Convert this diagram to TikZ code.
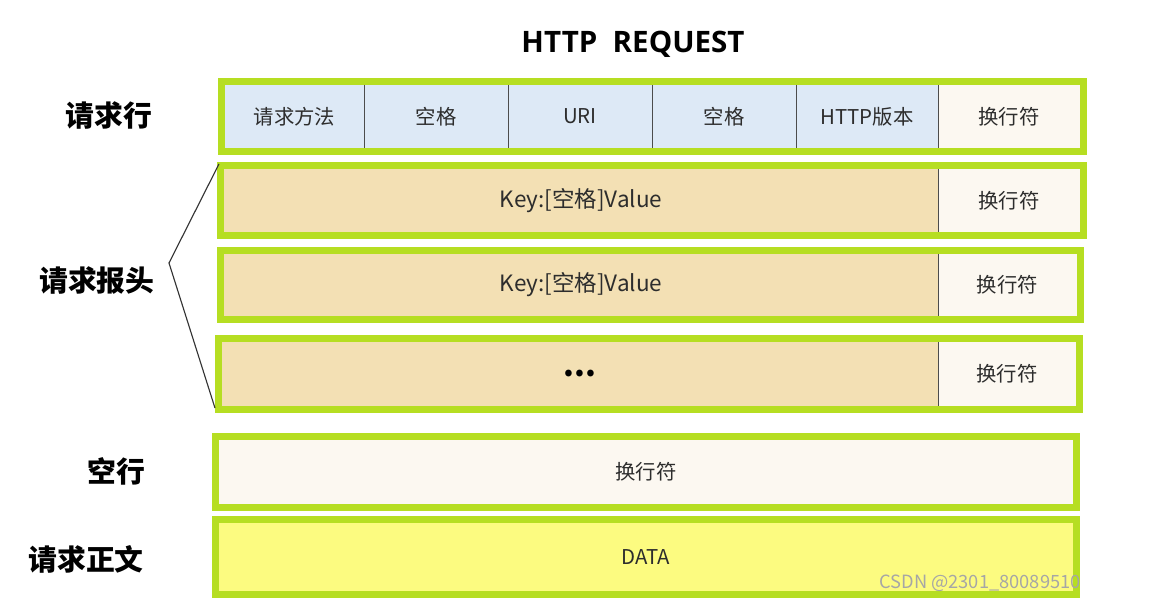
\documentclass[tikz,border=0pt]{standalone}
\usepackage{fontspec}
\setmainfont{Noto Sans CJK SC}
\newfontfamily\titlefont{Open Sans}
\usetikzlibrary{fit}

\definecolor{framegreen}{RGB}{182,222,34}
\definecolor{lineblue}{RGB}{221,233,246}
\definecolor{crlfwhite}{RGB}{252,248,241}
\definecolor{headtan}{RGB}{243,224,180}
\definecolor{datayellow}{RGB}{252,251,128}
\definecolor{txtgray}{RGB}{45,45,45}

\tikzset{
  rowbox/.style={draw=framegreen,line width=5pt,inner sep=0pt},
  cell/.style={inner sep=0pt,outer sep=0pt},
  every label/.style={inner sep=0pt,text=txtgray,font=\fontsize{14.5}{16}\selectfont},
  kv/.style={font=\fontsize{16}{18}\selectfont},
  divider/.style={draw=black!70,line width=0.5pt},
  sidelabel/.style={font=\fontsize{20.5}{22}\selectfont\bfseries,text=black}
}

\begin{document}
\begin{tikzpicture}[x=0.025cm,y=-0.025cm]
\useasboundingbox[fill=white] (0,0) rectangle (1160,615);

\node[font=\titlefont\fontsize{21}{23}\selectfont\bfseries] (title) at (633,44) {HTTP\ \ REQUEST};

% rows
\node[rowbox,fill=lineblue,fit={(221.5,81.5) (1083.5,151.5)}] (rl) {};
\node[rowbox,fill=headtan,fit={(220.5,165.5) (1083.5,235.5)}] (h1) {};
\node[rowbox,fill=headtan,fit={(220.5,250.5) (1080.5,319.5)}] (h2) {};
\node[rowbox,fill=headtan,fit={(218.5,338.5) (1079.5,409.5)}] (h3) {};
\node[rowbox,fill=crlfwhite,fit={(215.5,436.5) (1076.5,507.5)},label=center:换行符] (blank) {};
\node[rowbox,fill=datayellow,fit={(215.5,519.5) (1076.5,594.5)},label=center:DATA] (body) {};

% request line cells
\node[cell,fit={(225,85) (364,148)},label=center:请求方法] (m1) {};
\node[cell,fit={(364,85) (508,148)},label=center:空格] (m2) {};
\node[cell,fit={(508,85) (652,148)},label=center:URI] (m3) {};
\node[cell,fit={(652,85) (796,148)},label=center:空格] (m4) {};
\node[cell,fit={(796,85) (938,148)},label=center:HTTP版本] (m5) {};
\node[cell,fill=crlfwhite,fit={(938,85) (1080,148)},label=center:换行符] (m6) {};
\foreach \c in {m1,m2,m3,m4,m5}
  \draw[divider] (\c.north east) -- (\c.south east);

% header lines
\node[cell,fit={(224,169) (938,232)},label={[kv]center:Key:[空格]Value}] (k1) {};
\node[cell,fill=crlfwhite,fit={(938,169) (1080,232)},label=center:换行符] (e1) {};
\node[cell,fit={(224,254) (938,316)},label={[kv]center:Key:[空格]Value}] (k2) {};
\node[cell,fill=crlfwhite,fit={(938,254) (1077,316)},label=center:换行符] (e2) {};
\node[cell,fit={(222,342) (938,406)},label={[font=\fontsize{22}{22}\selectfont\bfseries,text=black]center:...}] (k3) {};
\node[cell,fill=crlfwhite,fit={(938,342) (1076,406)},label=center:换行符] (e3) {};
\foreach \c in {k1,k2,k3}
  \draw[divider] (\c.north east) -- (\c.south east);

% labels
\node[sidelabel] (lrl) at (109,115) {请求行};
\node[sidelabel] (lhd) at (97,281) {请求报头};
\node[sidelabel] (lbl) at (116,471) {空行};
\node[sidelabel] (lbd) at (86,559) {请求正文};

\coordinate (apex) at (169,263);
\draw[black!80,line width=0.8pt] ([shift={(2,2)}]h1.north west) -- (apex) -- ([shift={(0,-5)}]h3.south west);

\node[text=black!35,font=\fontsize{13}{14}\selectfont] (wm) at (980,583) {CSDN @2301\_80089510};
\end{tikzpicture}
\end{document}
